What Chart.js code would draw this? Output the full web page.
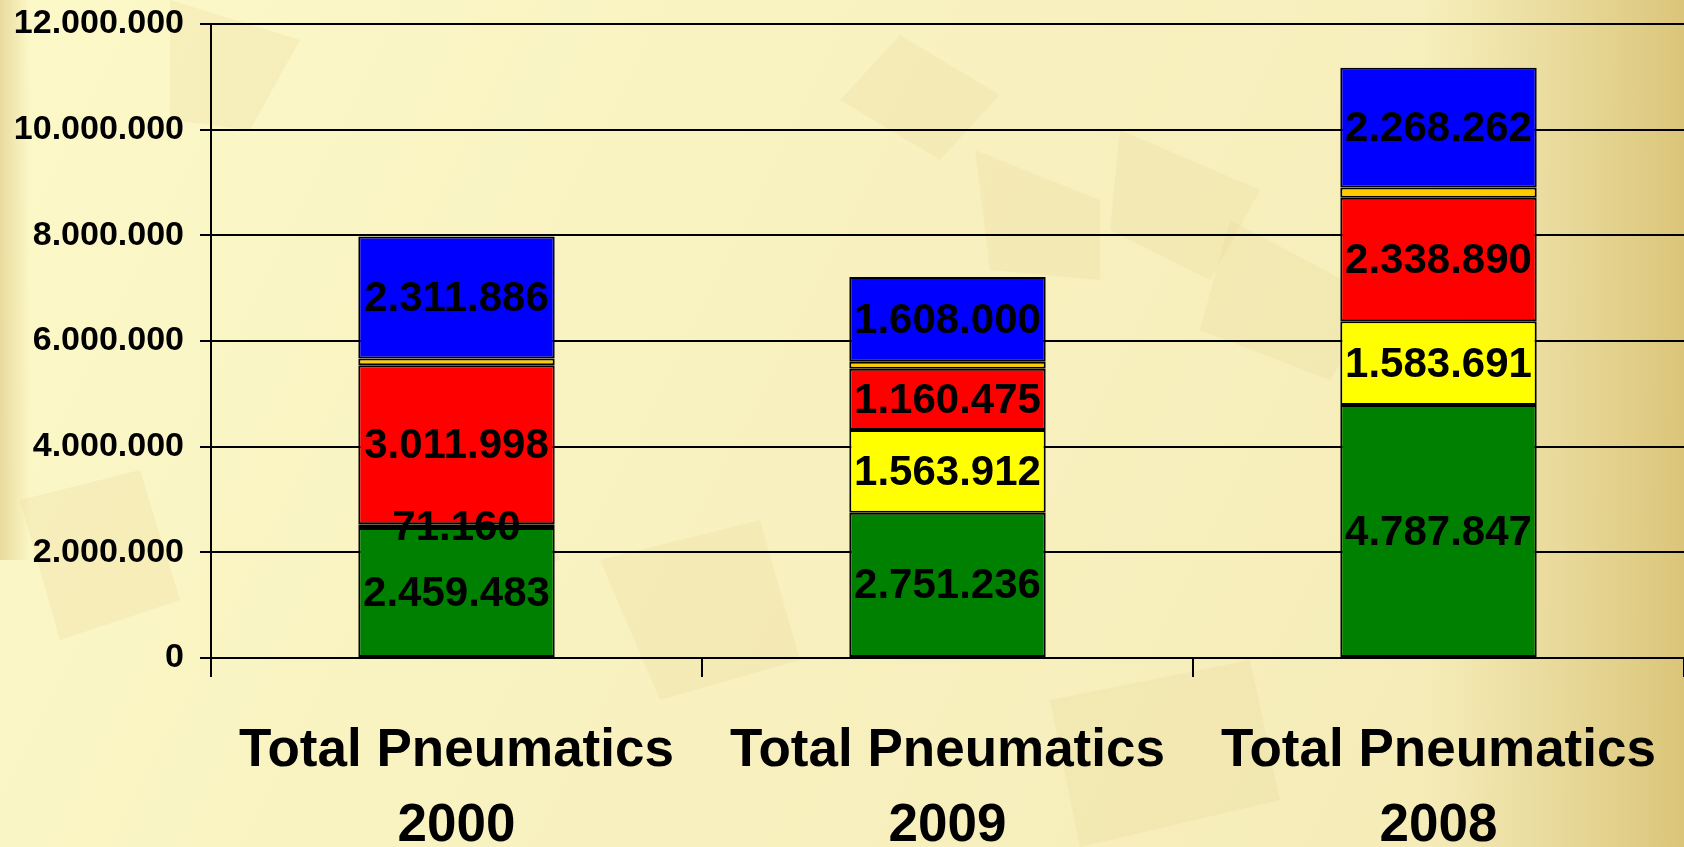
<!DOCTYPE html>
<html>
<head>
<meta charset="utf-8">
<script src="https://cdn.jsdelivr.net/npm/chart.js"></script>
<style>
  html, body { margin: 0; padding: 0; background: #fbf6c4; }
  canvas { display: block; }
</style>
</head>
<body>
<canvas id="chart" width="1684" height="847"></canvas>
<script>
// data
var labels = [["Total Pneumatics", "2000"], ["Total Pneumatics", "2009"], ["Total Pneumatics", "2008"]];
var green  = [2459483, 2751236, 4787847];
var yellow = [71160, 1563912, 1583691];
var red    = [3011998, 1160475, 2338890];
var orange = [125000, 130000, 195000];   // no labels shown, estimated
var blue   = [2311886, 1608000, 2268262];

function fmt(v) {
  return Math.round(v).toString().replace(/\B(?=(\d{3})+(?!\d))/g, ".");
}

// yellowish slide background with faint shapes
var backdrop = {
  id: 'backdrop',
  beforeDraw: function (chart) {
    var c = chart.ctx, w = chart.width, h = chart.height;
    c.save();
    var g = c.createLinearGradient(0, 0, w, h);
    g.addColorStop(0, '#fcf8c8');
    g.addColorStop(0.5, '#f8f1bf');
    g.addColorStop(1, '#f4eab6');
    c.fillStyle = g;
    c.fillRect(0, 0, w, h);

    c.fillStyle = 'rgba(225, 205, 140, 0.18)';
    var shapes = [
      [[170, 0], [300, 40], [250, 130], [170, 120]],
      [[900, 35], [1000, 95], [940, 160], [840, 100]],
      [[975, 150], [1100, 200], [1100, 280], [990, 270]],
      [[1120, 130], [1260, 190], [1210, 280], [1110, 230]],
      [[1230, 220], [1380, 300], [1330, 380], [1200, 330]],
      [[600, 560], [760, 520], [800, 660], [660, 700]],
      [[20, 500], [140, 470], [180, 600], [60, 640]],
      [[1050, 700], [1250, 660], [1280, 800], [1080, 847]],
      [[400, 470], [520, 430], [560, 560], [430, 600]]
    ];
    shapes.forEach(function (s) {
      c.beginPath();
      c.moveTo(s[0][0], s[0][1]);
      for (var i = 1; i < s.length; i++) c.lineTo(s[i][0], s[i][1]);
      c.closePath();
      c.fill();
    });

    var r = c.createLinearGradient(w - 260, 0, w, 0);
    r.addColorStop(0, 'rgba(220, 198, 122, 0)');
    r.addColorStop(1, 'rgba(214, 190, 110, 0.85)');
    c.fillStyle = r;
    c.fillRect(w - 260, 0, 260, h);

    var l = c.createLinearGradient(0, 0, 30, 0);
    l.addColorStop(0, 'rgba(220, 200, 130, 0.6)');
    l.addColorStop(1, 'rgba(220, 200, 130, 0)');
    c.fillStyle = l;
    c.fillRect(0, 0, 30, 560);
    c.restore();
  }
};

// value labels inside the segments
var segLabels = {
  id: 'segLabels',
  afterDatasetsDraw: function (chart) {
    var c = chart.ctx;
    c.save();
    c.font = 'bold 42px "Liberation Sans", Arial, sans-serif';
    c.fillStyle = '#000';
    c.textAlign = 'center';
    c.textBaseline = 'middle';
    chart.data.datasets.forEach(function (ds, di) {
      if (ds.noLabel) return;
      chart.getDatasetMeta(di).data.forEach(function (bar, i) {
        var p = bar.getProps(['x', 'y', 'base'], true);
        c.fillText(fmt(ds.data[i]), p.x, (p.y + p.base) / 2 + 2);
      });
    });
    c.restore();
  }
};

function ds(data, color, noLabel) {
  return {
    data: data,
    backgroundColor: color,
    borderColor: '#000',
    borderWidth: 2,
    borderSkipped: false,
    categoryPercentage: 1,
    barPercentage: 0.4,
    noLabel: !!noLabel
  };
}

new Chart(document.getElementById('chart'), {
  type: 'bar',
  data: {
    labels: labels,
    datasets: [
      ds(green, '#008000'),
      ds(yellow, '#ffff00'),
      ds(red, '#ff0000'),
      ds(orange, '#ffcc00', true),
      ds(blue, '#0000ff')
    ]
  },
  options: {
    responsive: false,
    animation: false,
    layout: { padding: 0 },
    plugins: {
      legend: { display: false },
      tooltip: { enabled: false }
    },
    scales: {
      x: {
        stacked: true,
        grid: {
          offset: true,
          drawOnChartArea: false,
          color: '#000',
          lineWidth: 2,
          tickLength: 19,
          tickWidth: 2
        },
        border: { color: '#000', width: 2 },
        ticks: {
          color: '#000',
          padding: 36,
          maxRotation: 0,
          font: { family: '"Liberation Sans", Arial, sans-serif', size: 53, weight: 'bold', lineHeight: 1.43 }
        },
        afterFit: function (s) {
          s.height = 189;
          s.paddingLeft = 0;
          s.paddingRight = 0;
        }
      },
      y: {
        stacked: true,
        min: 0,
        max: 12000000,
        ticks: {
          stepSize: 2000000,
          color: '#000',
          padding: 16,
          font: { family: '"Liberation Sans", Arial, sans-serif', size: 34, weight: 'bold' },
          callback: function (v) { return fmt(v); }
        },
        grid: {
          color: '#000',
          lineWidth: 2,
          tickLength: 11,
          tickWidth: 2
        },
        border: { color: '#000', width: 2 },
        afterFit: function (s) {
          s.width = 211;
          s.paddingTop = 24;
          s.paddingBottom = 0;
        }
      }
    }
  },
  plugins: [backdrop, segLabels]
});
</script>
</body>
</html>
